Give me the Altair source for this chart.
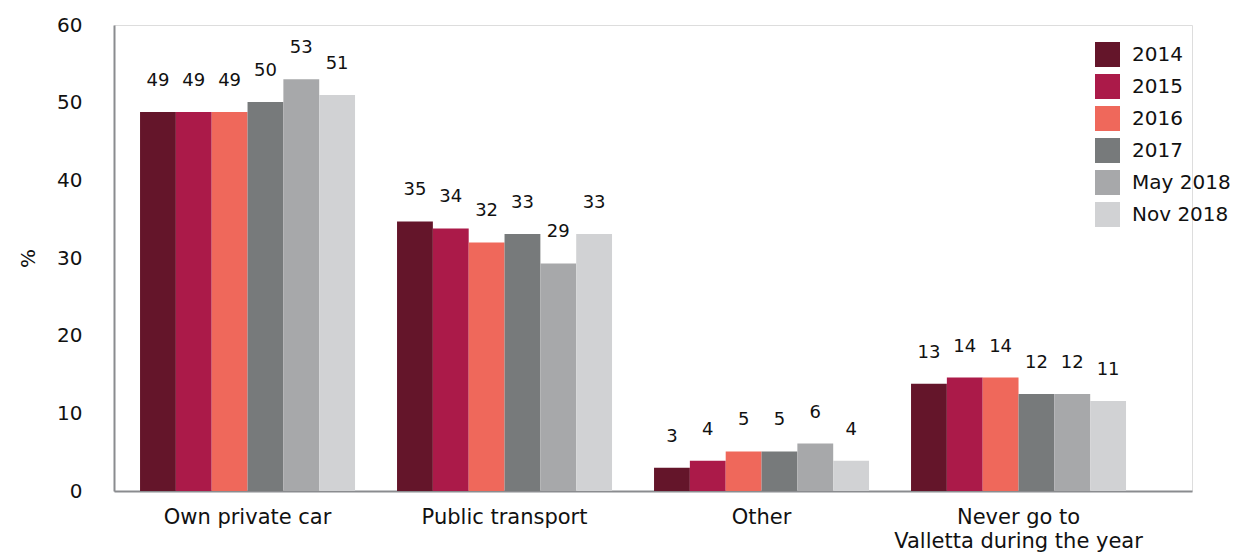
import altair as alt
import pandas as pd

categories = ["Own private car", "Public transport", "Other", "Never go to Valletta during the year"]
series = ["2014", "2015", "2016", "2017", "May 2018", "Nov 2018"]
colors = ["#64152a", "#ab1a49", "#ef685b", "#777a7b", "#a7a8aa", "#d1d2d4"]

own_car = [48.8, 48.8, 48.8, 50.1, 53.0, 51.0]
public_transport = [34.7, 33.8, 32.0, 33.1, 29.3, 33.1]
other = [3.0, 3.9, 5.1, 5.1, 6.1, 3.9]
never = [13.8, 14.6, 14.6, 12.5, 12.5, 11.6]

own_car_lbl = ["49", "49", "49", "50", "53", "51"]
public_transport_lbl = ["35", "34", "32", "33", "29", "33"]
other_lbl = ["3", "4", "5", "5", "6", "4"]
never_lbl = ["13", "14", "14", "12", "12", "11"]

rows = []
for cat, vals, lbls in zip(categories,
                           [own_car, public_transport, other, never],
                           [own_car_lbl, public_transport_lbl, other_lbl, never_lbl]):
    for s, v, l in zip(series, vals, lbls):
        rows.append({"category": cat, "series": s, "value": v, "label": l})
df = pd.DataFrame(rows)

FONT = "DejaVu Sans"
AXIS_COLOR = "#8a8c8f"

x_enc = alt.X("category:N", sort=categories, title=None,
              scale=alt.Scale(paddingInner=0.1634, paddingOuter=0.179, align=0.283),
              axis=alt.Axis(labelAngle=0, labelFontSize=21, labelFont=FONT, labelColor="#111",
                            labelPadding=15, ticks=False, domainColor=AXIS_COLOR, domainWidth=2,
                            labelLineHeight=24, labelLimit=0,
                            labelExpr="datum.label == 'Never go to Valletta during the year' ? ['Never go to', 'Valletta during the year'] : datum.label"))
xo_enc = alt.XOffset("series:N", sort=series, scale=alt.Scale(paddingInner=0, paddingOuter=0))

base = alt.Chart(df)

bars = base.mark_bar().encode(
    x=x_enc,
    xOffset=xo_enc,
    y=alt.Y("value:Q", title="%", scale=alt.Scale(domain=[0, 60], nice=False),
            axis=alt.Axis(values=[0, 10, 20, 30, 40, 50, 60], grid=False, ticks=False,
                          labelFontSize=20, labelFont=FONT, labelColor="#111", labelPadding=32,
                          domainColor=AXIS_COLOR, domainWidth=2,
                          titleFontSize=20, titleFont=FONT, titleFontWeight="normal",
                          titleColor="#111", titlePadding=18, titleAngle=-90)),
    color=alt.Color("series:N", sort=series,
                    scale=alt.Scale(domain=series, range=colors),
                    legend=alt.Legend(title=None, orient="none", legendX=981, legendY=17,
                                      symbolType="square", symbolSize=625, symbolStrokeWidth=0,
                                      labelFontSize=20, labelFont=FONT, labelColor="#111",
                                      labelOffset=12, rowPadding=7, padding=0, labelLimit=0)),
)

texts = base.mark_text(baseline="middle", align="center", dy=-31, fontSize=18,
                       font=FONT, color="#111").encode(
    x=alt.X("category:N", sort=categories),
    xOffset=alt.XOffset("series:N", sort=series),
    y=alt.Y("value:Q"),
    text="label:N",
)

chart = alt.layer(bars, texts).properties(
    width=1078, height=466,
    autosize=alt.AutoSizeParams(type="none"),
    padding={"left": 106, "top": 17, "right": 42, "bottom": 62},
).configure_view(stroke=None).configure(background="white")

chart.save("out.html", embed_options={"renderer": "svg", "actions": False})
